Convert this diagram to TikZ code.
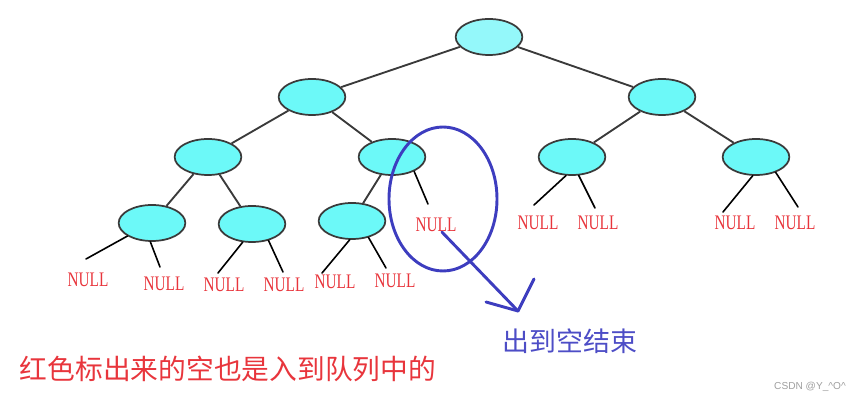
\documentclass[tikz,border=0pt]{standalone}
\usepackage{fontspec}
\setmainfont{Liberation Serif}
\newfontfamily\cjk{Noto Sans CJK SC}
\newfontfamily\nulllabelfont[FakeStretch=0.74]{Liberation Serif}
\newfontfamily\markfont{Liberation Sans}
\usetikzlibrary{shapes.geometric,arrows.meta}
\definecolor{nodefill}{HTML}{6CF9F8}
\definecolor{rootfill}{HTML}{94F8FA}
\definecolor{edgegray}{HTML}{3A3A3A}
\definecolor{nullred}{HTML}{E8353C}
\definecolor{inkblue}{HTML}{3D3DBF}
\definecolor{textblue}{HTML}{4D4DC6}

\begin{document}
\begin{tikzpicture}[x=0.75pt, y=-0.75pt,
  tnode/.style={ellipse, draw=edgegray, line width=1.3pt, fill=nodefill, minimum width=50pt, minimum height=27pt, inner sep=0pt},
  tedge/.style={edgegray, line width=1.4pt},
  stub/.style={black, line width=1.2pt, line cap=round},
  nulltxt/.style={nullred, font=\nulllabelfont\fontsize{15.5}{16}\selectfont, inner sep=0pt},
  ink/.style={inkblue, line width=2.2pt, line cap=round, line join=round}]
  \useasboundingbox (0,0) rectangle (861,402);
  % tree nodes
  \node[tnode, fill=rootfill] (r) at (489,37) {};
  \foreach \n/\x/\y in {a/312/97, b/662/97, aa/208/157, ab/392/157, ba/572/157, bb/756/157, aaa/152/223, aab/252/224, aba/352/221}{
    \node[tnode] (\n) at (\x,\y) {};
  }
  % edges
  \foreach \u/\v in {r/a, r/b, a/aa, a/ab, b/ba, b/bb, aa/aaa, aa/aab, ab/aba}{
    \draw[tedge] (\u) -- (\v);
  }
  % NULL children
  \foreach \i/\n/\ang/\ex/\ey/\lx/\ly in {1/aaa/208/86/259/88/280, 2/aaa/265/160/267/164/284,
      3/aab/243/218/273/224/285, 4/aab/315/283/272/284/285, 5/aba/263/322/273/335/282,
      6/aba/315/386/268/395/281, 7/ab/327/428/204/436/225, 8/ba/252/534/205/538/223,
      9/ba/290/595/208/598/223, 10/bb/260/723/212/735/223, 11/bb/322/798/207/795/223}{
    \coordinate (s\i) at (\ex,\ey);
    \draw[stub] (\n.\ang) -- (s\i);
    \node[nulltxt] (n\i) at (\lx,\ly) {NULL};
  }
  % circled NULL and arrow
  \draw[ink] (443,199) ellipse [x radius=40.5pt, y radius=54pt];
  \coordinate (tip) at (518,311);
  \coordinate (barbL) at (486,302);
  \coordinate (barbR) at (534,279);
  \draw[ink] ([xshift=4.5pt]n7.south) -- (tip);
  \draw[ink] (barbL) -- (tip) -- (barbR);
  % notes
  \node[textblue, font=\cjk\fontsize{20.2}{22}\selectfont, inner sep=0pt] (endnote) at (570,341) {出到空结束};
  \node[nullred, font=\cjk\fontsize{20.8}{22}\selectfont, inner sep=0pt] (note) at (228,369) {红色标出来的空也是入到队列中的};
  \node[gray!75, font=\markfont\fontsize{7.6}{8}\selectfont, inner sep=0pt] (mark) at (810,387) {CSDN @Y\_\textasciicircum O\textasciicircum};
\end{tikzpicture}
\end{document}
